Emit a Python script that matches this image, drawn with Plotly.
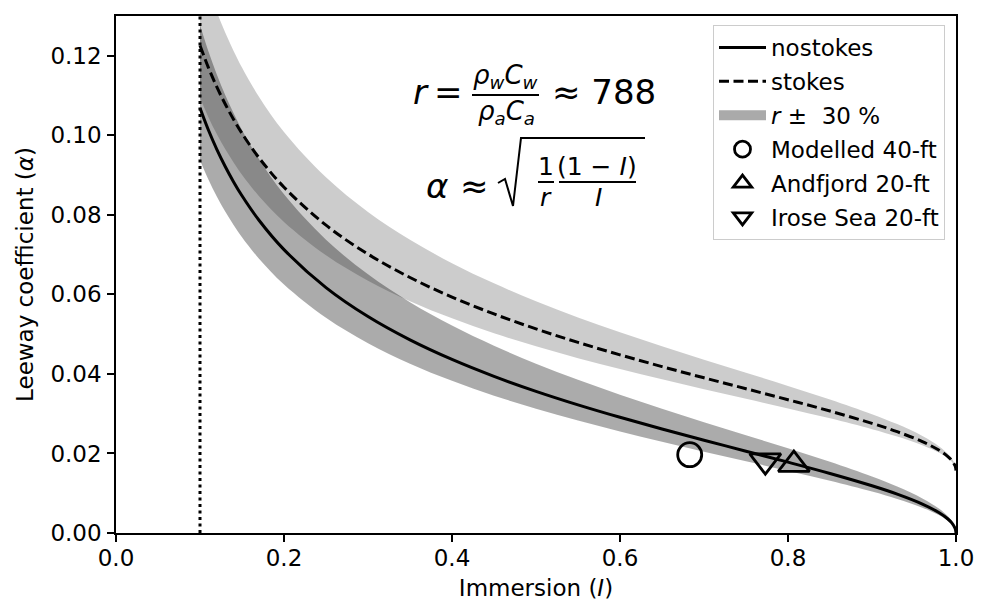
import plotly.graph_objects as go

# ---------------- data ----------------
immersion = [0.10, 0.11, 0.12, 0.13, 0.14, 0.15, 0.17, 0.20, 0.25, 0.30, 0.35, 0.40,
             0.45, 0.50, 0.55, 0.60, 0.65, 0.70, 0.75, 0.80, 0.85, 0.90, 0.93, 0.96,
             0.98, 0.99, 0.995, 0.999, 1.00]

nostokes = [0.10687, 0.10133, 0.09647, 0.09216, 0.08829, 0.08480, 0.07871, 0.07125,
            0.06170, 0.05442, 0.04855, 0.04363, 0.03938, 0.03562, 0.03222, 0.02909,
            0.02614, 0.02332, 0.02057, 0.01781, 0.01497, 0.01187, 0.00977, 0.00727,
            0.00509, 0.00358, 0.00253, 0.00113, 0.0]
nostokes_hi = [0.12773, 0.12111, 0.11530, 0.11015, 0.10553, 0.10136, 0.09408, 0.08516,
               0.07375, 0.06504, 0.05803, 0.05215, 0.04707, 0.04257, 0.03851, 0.03477,
               0.03124, 0.02787, 0.02459, 0.02129, 0.01789, 0.01419, 0.01168, 0.00869,
               0.00608, 0.00428, 0.00302, 0.00135, 0.0]
nostokes_lo = [0.09373, 0.08887, 0.08461, 0.08083, 0.07744, 0.07437, 0.06903, 0.06249,
               0.05411, 0.04773, 0.04258, 0.03827, 0.03454, 0.03124, 0.02826, 0.02551,
               0.02293, 0.02045, 0.01804, 0.01562, 0.01313, 0.01041, 0.00857, 0.00638,
               0.00446, 0.00314, 0.00222, 0.00099, 0.0]

stokes = [0.12257, 0.11703, 0.11217, 0.10786, 0.10399, 0.10050, 0.09441, 0.08695,
          0.07740, 0.07012, 0.06425, 0.05933, 0.05508, 0.05132, 0.04792, 0.04479,
          0.04184, 0.03902, 0.03627, 0.03351, 0.03067, 0.02757, 0.02547, 0.02297,
          0.02079, 0.01928, 0.01823, 0.01683, 0.0157]
stokes_hi = [0.14343, 0.13681, 0.13100, 0.12585, 0.12123, 0.11706, 0.10978, 0.10086,
             0.08945, 0.08074, 0.07373, 0.06785, 0.06277, 0.05827, 0.05421, 0.05047,
             0.04694, 0.04357, 0.04029, 0.03699, 0.03359, 0.02989, 0.02738, 0.02439,
             0.02178, 0.01998, 0.01872, 0.01705, 0.0157]
stokes_lo = [0.10943, 0.10457, 0.10031, 0.09653, 0.09314, 0.09007, 0.08473, 0.07819,
             0.06981, 0.06343, 0.05828, 0.05397, 0.05024, 0.04694, 0.04396, 0.04121,
             0.03863, 0.03615, 0.03374, 0.03132, 0.02883, 0.02611, 0.02427, 0.02208,
             0.02016, 0.01884, 0.01792, 0.01669, 0.0157]

obs_names = ["Modelled 40-ft", "Andfjord 20-ft", "Irose Sea 20-ft"]
obs_immersion = [0.683, 0.807, 0.773]
obs_alpha = [0.0197, 0.0172, 0.0182]
obs_symbols = ["circle-open", "triangle-up-open", "triangle-down-open"]

cutoff_immersion = 0.10
y_range = [0.0, 0.13]
x_ticks = [0.0, 0.2, 0.4, 0.6, 0.8, 1.0]
y_ticks = [0.00, 0.02, 0.04, 0.06, 0.08, 0.10, 0.12]

# ---------------- layout helpers ----------------
W, H = 988, 601
ML, MR, MT, MB = 116, 32, 16, 68
PW, PH = W - ML - MR, H - MT - MB


def px(x):
    return (x - ML) / PW


def py(y):
    return (H - MB - y) / PH


FONT = "DejaVu Sans"
FS = 23
fig = go.Figure()

# stokes band (light)
fig.add_trace(go.Scatter(x=immersion, y=stokes_lo, mode="lines",
                         line=dict(width=0, shape="spline"), showlegend=False,
                         hoverinfo="skip"))
fig.add_trace(go.Scatter(x=immersion, y=stokes_hi, mode="lines", fill="tonexty",
                         fillcolor="rgba(0,0,0,0.2)",
                         line=dict(width=0, shape="spline"), showlegend=False,
                         hoverinfo="skip"))
# nostokes band (darker)
fig.add_trace(go.Scatter(x=immersion, y=nostokes_lo, mode="lines",
                         line=dict(width=0, shape="spline"), showlegend=False,
                         hoverinfo="skip"))
fig.add_trace(go.Scatter(x=immersion, y=nostokes_hi, mode="lines", fill="tonexty",
                         fillcolor="rgba(0,0,0,0.33)",
                         line=dict(width=0, shape="spline"), showlegend=False,
                         hoverinfo="skip"))

fig.add_trace(go.Scatter(x=immersion, y=nostokes, mode="lines",
                         line=dict(color="black", width=3, shape="spline"),
                         name="nostokes", legendgroup="a", legendrank=1))
fig.add_trace(go.Scatter(x=immersion, y=stokes, mode="lines",
                         line=dict(color="black", width=3, shape="spline",
                                   dash="10px,4.5px"),
                         name="stokes", legendgroup="b", legendrank=2))
# legend swatch for the bands
fig.add_trace(go.Scatter(x=[None], y=[None], mode="lines",
                         line=dict(color="#aaaaaa", width=17),
                         name="<i>r</i> \u00b1  30 %", legendgroup="c", legendrank=3))

fig.add_trace(go.Scatter(x=[cutoff_immersion, cutoff_immersion], y=y_range, mode="lines",
                         line=dict(color="black", width=3, dash="3px,3.5px"),
                         showlegend=False, hoverinfo="skip"))

for k, (nm, xi, yi, sym) in enumerate(zip(obs_names, obs_immersion, obs_alpha, obs_symbols)):
    fig.add_trace(go.Scatter(x=[xi], y=[yi], mode="markers",
                             marker=dict(symbol=sym, size=24 if k == 0 else 27,
                                         color="black",
                                         line=dict(color="black", width=2.8)),
                             name=nm, legendgroup="m%d" % k, legendrank=4 + k))

axis_common = dict(showline=True, linecolor="black", linewidth=1.6, mirror=True,
                   ticks="outside", ticklen=7, tickwidth=1.6, tickcolor="black",
                   showgrid=False, zeroline=False,
                   tickfont=dict(family=FONT, size=FS, color="black"))

fig.update_xaxes(range=[0, 1], tickvals=x_ticks, tickformat=".1f", ticklabelstandoff=-3,
                 automargin=False,
                 title=dict(text="Immersion (<i>I</i>)",
                            font=dict(family=FONT, size=FS, color="black"), standoff=14),
                 **axis_common)
fig.update_yaxes(range=y_range, tickvals=y_ticks, tickformat=".2f", ticklabelstandoff=1,
                 automargin=False,
                 title=dict(text="Leeway coefficient (<i>\u03b1</i>)",
                            font=dict(family=FONT, size=FS, color="black"), standoff=10),
                 **axis_common)

# ---------------- formulas ----------------
ann = []
shapes = []


def txt(s, x, y, size):
    ann.append(dict(text=s, x=px(x), y=py(y), xref="paper", yref="paper",
                    xanchor="center", yanchor="middle", showarrow=False,
                    font=dict(family=FONT, size=size, color="black")))


def hline(x0, x1, y, w=2):
    shapes.append(dict(type="line", xref="paper", yref="paper",
                       x0=px(x0), x1=px(x1), y0=py(y), y1=py(y),
                       line=dict(color="black", width=w)))


# r = rho_w C_w / rho_a C_a ~ 788
txt("<i>r</i>", 421, 92, 34)
txt("=", 448, 92, 34)
txt("<i>\u03c1<sub>w</sub>C<sub>w</sub></i>", 505, 77, 26)
hline(472, 539, 95)
txt("<i>\u03c1<sub>a</sub>C<sub>a</sub></i>", 506, 113, 26)
txt("\u2248 788", 604, 92, 34)

# alpha ~ sqrt(1/r (1-I)/I)
txt("<i>\u03b1</i>", 437, 186, 34)
txt("\u2248", 474, 186, 34)
shapes.append(dict(type="path", xref="paper", yref="paper",
                   path="M %f,%f L %f,%f L %f,%f L %f,%f L %f,%f" % (
                       px(498), py(183), px(505), py(179), px(513), py(206),
                       px(521), py(138), px(645), py(138)),
                   line=dict(color="black", width=2)))
txt("1", 546, 166, 25)
hline(538, 554, 182)
txt("<i>r</i>", 546, 197, 25)
txt("(1 \u2212 <i>I</i>)", 597, 166, 25)
hline(559, 636, 182)
txt("<i>I</i>", 598, 197, 25)

fig.update_layout(
    width=W, height=H,
    margin=dict(l=ML, r=MR, t=MT, b=MB),
    paper_bgcolor="white", plot_bgcolor="white",
    font=dict(family=FONT, size=FS, color="black"),
    annotations=ann, shapes=shapes,
    legend=dict(x=px(945), y=py(25), xanchor="right", yanchor="top",
                bgcolor="rgba(255,255,255,0.85)", bordercolor="#cccccc", borderwidth=1,
                font=dict(family=FONT, size=FS, color="black"),
                itemwidth=47, tracegroupgap=1, traceorder="grouped"),
)

fig.write_html("out.html", config={"displayModeBar": False},
               post_script="document.body.style.margin='0';")
